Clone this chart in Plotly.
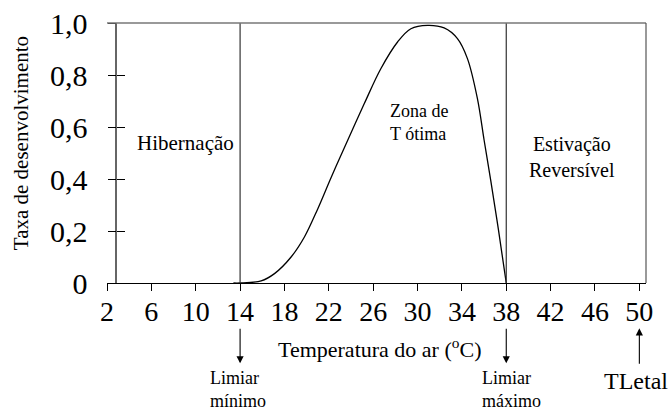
import plotly.graph_objects as go

# curve (temperature in C, development rate)
temp = [13.4, 14.0, 15.9, 17.1, 18.6, 19.8, 21.0, 22.2, 23.4, 25.2, 26.7, 28.2,
        29.4, 30.9, 32.4, 33.6, 34.5, 35.4, 36.0, 36.6, 37.3, 38.0]
rate = [0.0, 0.0, 0.008, 0.036, 0.10, 0.177, 0.285, 0.405, 0.52, 0.69, 0.825, 0.927,
        0.978, 0.991, 0.981, 0.94, 0.863, 0.709, 0.55, 0.395, 0.203, 0.0]

x_ticks = [2, 6, 10, 14, 18, 22, 26, 30, 34, 38, 42, 46, 50]
y_ticks = [0, 0.2, 0.4, 0.6, 0.8, 1.0]
y_ticktext = ["0", "0,2", "0,4", "0,6", "0,8", "1,0"]

t_min = 14
t_max = 38
t_letal = 50

serif = "Liberation Serif"

fig = go.Figure()
fig.add_trace(go.Scatter(x=temp, y=rate, mode="lines", line=dict(color="black", width=1.3, shape="spline"),
                         showlegend=False, hoverinfo="skip"))
# dummy trace so the second y axis (inside ticks) shows up
fig.add_trace(go.Scatter(x=[t_min], y=[0], yaxis="y2", mode="markers", marker=dict(opacity=0),
                         showlegend=False, hoverinfo="skip"))

# zone limits
for t in [t_min, t_max]:
    fig.add_shape(type="line", xref="x", yref="y", x0=t, x1=t, y0=0, y1=1,
                  line=dict(color="#333", width=1.2))
# frame: top and right
fig.add_shape(type="line", xref="paper", yref="paper", x0=0, x1=1, y0=1, y1=1,
              line=dict(color="#777", width=1.5))
fig.add_shape(type="line", xref="paper", yref="paper", x0=1, x1=1, y0=0, y1=1,
              line=dict(color="#555", width=1.2))

ypos = 0.0172
fig.update_layout(
    width=669, height=410,
    margin=dict(l=107, r=23, t=23, b=127),
    plot_bgcolor="white", paper_bgcolor="white",
    font=dict(family=serif, color="black"),
    xaxis=dict(range=[2, 50.6], tickvals=x_ticks, showgrid=False, zeroline=False, automargin=False,
               showline=True, linecolor="black", linewidth=1,
               ticks="outside", ticklen=7, tickcolor="black", ticklabelstandoff=-4,
               tickfont=dict(size=28, family=serif)),
    yaxis=dict(range=[0, 1.0], tickvals=y_ticks, ticktext=y_ticktext, showgrid=False, zeroline=False,
               automargin=False, anchor="free", position=ypos, showline=True, linecolor="#666", linewidth=1.5,
               ticks="outside", ticklen=8, tickcolor="black", ticklabelstandoff=14,
               tickfont=dict(size=30, family=serif)),
    yaxis2=dict(range=[0, 1.0], tickvals=y_ticks, overlaying="y", anchor="free", position=ypos,
                automargin=False, showgrid=False, zeroline=False, showline=False, showticklabels=False,
                ticks="inside", ticklen=8, tickcolor="black"),
)

ann = [
    dict(text="Taxa de desenvolvimento", xref="paper", yref="paper", x=-0.158, y=0.537,
         textangle=-90, font=dict(size=21)),
    dict(text="Temperatura do ar (<sup>o</sup>C)", xref="paper", yref="paper", x=0.506, y=-0.251,
         font=dict(size=22)),
    dict(text="Hibernação", xref="x", yref="y", x=9.05, y=0.54, font=dict(size=21)),
    dict(text="Zona de<br>T ótima", xref="x", yref="y", x=27.34, y=0.617, xanchor="left", align="left",
         font=dict(size=18)),
    dict(text="Estivação<br>Reversível", xref="x", yref="y", x=43.9, y=0.483, font=dict(size=20)),
    dict(text="Limiar<br>mínimo", xref="x", yref="paper", x=11.13, y=-0.41, xanchor="left", align="left",
         font=dict(size=18)),
    dict(text="Limiar<br>máximo", xref="x", yref="paper", x=35.63, y=-0.41, xanchor="left", align="left",
         font=dict(size=18)),
    dict(text="TLetal", xref="x", yref="paper", x=49.68, y=-0.378, font=dict(size=24)),
]
for a in ann:
    a.setdefault("xanchor", "center")
    a["yanchor"] = "middle"
    a["showarrow"] = False

# arrows below the axis
for t in [t_min, t_max]:
    ann.append(dict(text="", xref="x", yref="paper", x=t, y=-0.309, ax=0, ay=-36, showarrow=True,
                    arrowhead=2, arrowsize=1.3, arrowwidth=1.1, arrowcolor="black"))
ann.append(dict(text="", xref="x", yref="paper", x=t_letal, y=-0.174, ax=0, ay=37, showarrow=True,
                arrowhead=2, arrowsize=1.3, arrowwidth=1.1, arrowcolor="black"))
fig.update_layout(annotations=ann)

# drop the default 8px body margin so the figure fills the window
fig.write_html("out.html", config={"displayModeBar": False},
               post_script="document.body.style.margin='0';")
